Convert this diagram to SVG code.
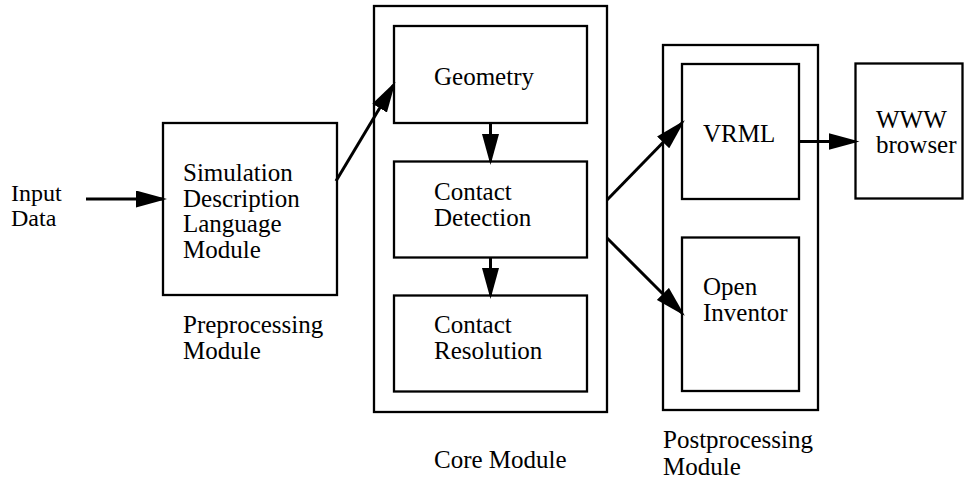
<svg xmlns="http://www.w3.org/2000/svg" width="964" height="479" viewBox="0 0 964 479">
  <defs>
    <marker id="arrow" markerUnits="userSpaceOnUse" markerWidth="31" markerHeight="17" refX="27" refY="8.5" orient="auto">
      <path d="M0,0 L31,8.5 L0,17 Z" fill="#000"/>
    </marker>
    <style>
      rect { fill: #fff; stroke: #000; stroke-width: 2.3; }
      .conn line { stroke: #000; stroke-width: 3; marker-end: url(#arrow); }
      text { font-size: 25px; fill: #000; }
      .tight { font-size: 24px; }
    </style>
  </defs>

  <rect x="0" y="0" width="964" height="479" style="stroke:none"/>

  <g font-family="'Liberation Serif', 'Times New Roman', Times, serif">
  <!-- free-standing input label -->
  <g id="input">
    <text class="tight" x="11" y="201">Input</text>
    <text class="tight" x="11" y="225.5">Data</text>
  </g>

  <!-- preprocessing stage -->
  <g id="sdl">
    <rect x="163" y="123" width="174" height="172"/>
    <text x="183" y="181">Simulation</text>
    <text x="183" y="206.5">Description</text>
    <text x="183" y="232">Language</text>
    <text x="183" y="257.5">Module</text>
  </g>
  <g id="preprocessing-label">
    <text x="183" y="333">Preprocessing</text>
    <text x="183" y="359">Module</text>
  </g>

  <!-- core stage -->
  <g id="core">
    <rect x="374" y="6" width="233" height="406"/>
    <text x="434" y="468">Core Module</text>
  </g>
  <g id="geometry">
    <rect x="394" y="26" width="193" height="97"/>
    <text x="434" y="85">Geometry</text>
  </g>
  <g id="contact-detection">
    <rect x="394" y="161.5" width="193" height="96"/>
    <text x="434" y="200">Contact</text>
    <text x="434" y="226">Detection</text>
  </g>
  <g id="contact-resolution">
    <rect x="394" y="295.5" width="193" height="96"/>
    <text x="434" y="333">Contact</text>
    <text x="434" y="359">Resolution</text>
  </g>

  <!-- postprocessing stage -->
  <g id="postprocessing">
    <rect x="663" y="45" width="155" height="365"/>
    <text x="663" y="448">Postprocessing</text>
    <text x="663" y="475">Module</text>
  </g>
  <g id="vrml">
    <rect x="682" y="64" width="117" height="135"/>
    <text x="703" y="141.5">VRML</text>
  </g>
  <g id="open-inventor">
    <rect x="682" y="237.5" width="117" height="153.5"/>
    <text x="703" y="295">Open</text>
    <text x="703" y="320.5">Inventor</text>
  </g>

  <!-- output -->
  <g id="www-browser">
    <rect x="855.5" y="63.5" width="107" height="135"/>
    <text x="876" y="127.5">WWW</text>
    <text x="876" y="153">browser</text>
  </g>
  </g>

  <!-- connectors -->
  <g id="connectors" class="conn">
    <line x1="86" y1="199" x2="163" y2="199"/>
    <line x1="336" y1="181" x2="393.5" y2="85"/>
    <line x1="490.5" y1="123" x2="490.5" y2="161"/>
    <line x1="490.5" y1="257.5" x2="490.5" y2="295"/>
    <line x1="607" y1="200" x2="682" y2="123"/>
    <line x1="607" y1="238" x2="682" y2="313"/>
    <line x1="799" y1="141.5" x2="855.5" y2="141.5"/>
  </g>
</svg>
